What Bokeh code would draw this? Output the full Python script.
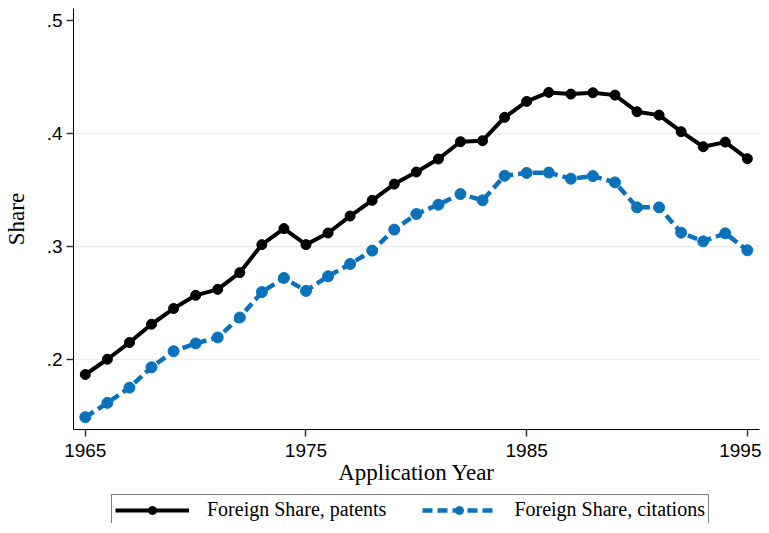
from bokeh.plotting import figure
from bokeh.layouts import column
from bokeh.models import ColumnDataSource, FixedTicker, Range1d, Legend, LegendItem
from bokeh.embed import file_html
from bokeh.resources import INLINE

years = list(range(1965, 1996))
patents = [0.1865, 0.200, 0.2148, 0.231, 0.2449, 0.2566, 0.2619, 0.2767, 0.3015, 0.3157,
           0.3015, 0.3118, 0.3268, 0.3407, 0.3551, 0.3658, 0.3773, 0.3926, 0.3935, 0.4142,
           0.4283, 0.4363, 0.4348, 0.4360, 0.4339, 0.4192, 0.4162, 0.4015, 0.3882, 0.3923, 0.3776]
citations = [0.1487, 0.1614, 0.1749, 0.1929, 0.2071, 0.2140, 0.2193, 0.2370, 0.2595, 0.2720,
             0.2605, 0.2735, 0.2844, 0.2962, 0.3148, 0.3286, 0.3369, 0.3463, 0.3407, 0.3625,
             0.3650, 0.3653, 0.3599, 0.3622, 0.3566, 0.3345, 0.3345, 0.3121, 0.3044, 0.3115, 0.2965]
x_ticks = [1965, 1975, 1985, 1995]
y_ticks = [0.2, 0.3, 0.4, 0.5]
y_tick_labels = [".2", ".3", ".4", ".5"]
series_names = ["Foreign Share, patents", "Foreign Share, citations"]

BLUE = "#0a72bb"

src = ColumnDataSource(dict(year=years, patents=patents, citations=citations))

p = figure(frame_width=686, frame_height=421, output_backend="svg", toolbar_location=None,
           x_range=Range1d(1964.465, 1995.55), y_range=Range1d(0.1378, 0.5106),
           min_border_left=0, min_border_right=2, min_border_top=8, min_border_bottom=0)
p.outline_line_color = None
p.background_fill_color = "white"
p.border_fill_color = "white"

p.line("year", "patents", source=src, line_color="black", line_width=4)
p.scatter("year", "patents", source=src, size=10, fill_color="black", line_color="black")
p.line("year", "citations", source=src, line_color=BLUE, line_width=4.5, line_dash="10 5")
p.scatter("year", "citations", source=src, size=11, fill_color=BLUE, line_color=BLUE)

# axes
p.xaxis.ticker = FixedTicker(ticks=x_ticks)
p.yaxis.ticker = FixedTicker(ticks=y_ticks)
p.yaxis.major_label_overrides = {v: t for v, t in zip(y_ticks, y_tick_labels)}
p.xaxis.minor_tick_line_color = None
p.yaxis.minor_tick_line_color = None
for ax in (p.xaxis, p.yaxis):
    ax.axis_line_color = "black"
    ax.axis_line_width = 1
    ax.major_tick_line_color = "#333333"
    ax.major_tick_line_width = 1.5
    ax.major_tick_in = 0
    ax.major_tick_out = 7
    ax.major_label_text_font = "Liberation Sans"
    ax.major_label_text_font_size = "19px"
    ax.major_label_text_color = "black"
    ax.axis_label_text_font = "Liberation Serif"
    ax.axis_label_text_font_size = "23px"
    ax.axis_label_text_font_style = "normal"
    ax.axis_label_text_color = "black"
p.xaxis.axis_label = "Application Year"
p.yaxis.axis_label = "Share"
p.xaxis.major_label_standoff = 7
p.yaxis.major_label_standoff = 4
p.xaxis.axis_label_standoff = 0
p.yaxis.axis_label_standoff = 15

p.xgrid.grid_line_color = None
p.ygrid.ticker = FixedTicker(ticks=y_ticks[:-1])
p.ygrid.grid_line_color = "#e8eef2"
p.ygrid.grid_line_width = 1.5

# legend strip below the chart
q = figure(frame_width=686, frame_height=36, output_backend="svg", toolbar_location=None,
           x_axis_type=None, y_axis_type=None, x_range=Range1d(0, 1), y_range=Range1d(0, 1),
           min_border_left=64, min_border_right=2, min_border_top=0, min_border_bottom=0)
q.outline_line_color = None
q.grid.visible = False
dummy = ColumnDataSource(dict(x=[-10, -9], y=[-10, -9]))
ql1 = q.line("x", "y", source=dummy, line_color="black", line_width=4)
qs1 = q.scatter("x", "y", source=dummy, size=10, fill_color="black", line_color="black")
ql2 = q.line("x", "y", source=dummy, line_color=BLUE, line_width=4.5, line_dash="10 5")
qs2 = q.scatter("x", "y", source=dummy, size=11, fill_color=BLUE, line_color=BLUE)

legend = Legend(items=[LegendItem(label=series_names[0], renderers=[ql1, qs1]),
                       LegendItem(label=series_names[1], renderers=[ql2, qs2])],
                orientation="horizontal", location=(89, -2))
legend.label_text_font = "Liberation Serif"
legend.label_text_font_size = "20px"
legend.label_text_color = "black"
legend.glyph_width = 74
legend.glyph_height = 20
legend.label_standoff = 18
legend.spacing = 36
legend.padding = 3
legend.margin = 0
legend.border_line_color = "black"
legend.border_line_width = 1
legend.background_fill_color = "white"
legend.background_fill_alpha = 1
q.add_layout(legend, "center")

layout = column(p, q, spacing=0)
open("out.html", "w").write(file_html(layout, INLINE))
